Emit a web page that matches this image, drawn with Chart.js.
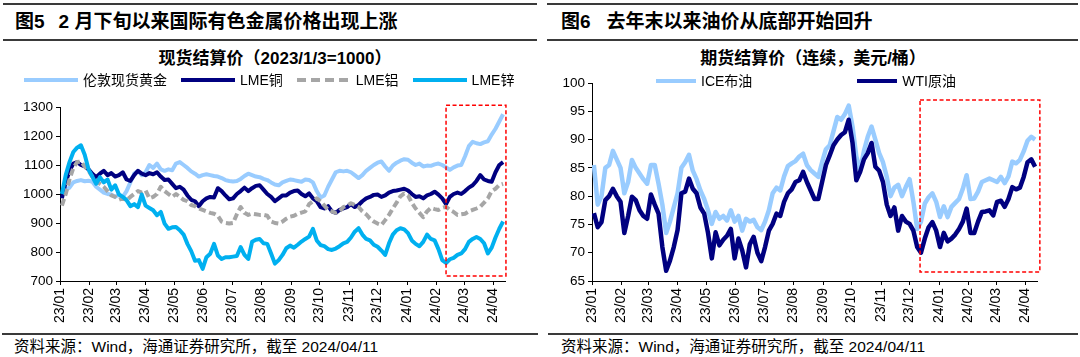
<!DOCTYPE html>
<html><head><meta charset="utf-8">
<script src="https://cdn.jsdelivr.net/npm/chart.js@4.4.1/dist/chart.umd.min.js"></script>
<style>
body{margin:0;width:1080px;height:357px;background:#fff;position:relative;overflow:hidden;font-family:"Liberation Sans","Noto Sans CJK SC",sans-serif;color:#000}
.hr{position:absolute;height:2px;background:#3a3a3a}
.title{position:absolute;top:10px;font-size:19px;line-height:24px;white-space:nowrap;font-weight:bold}
.sub{position:absolute;top:49px;font-size:17px;line-height:20px;white-space:nowrap;font-weight:bold;transform:translateX(-50%)}
.foot{position:absolute;top:338px;font-size:15.5px;line-height:18px;white-space:nowrap}
canvas{position:absolute}
.legend{position:absolute;display:flex;align-items:center;font-size:14px;line-height:16px;white-space:nowrap}
.legend .item{display:flex;align-items:center}
.legend .sw{height:4px;margin-right:5px}
</style></head>
<body>
<div class="hr" style="left:3px;top:3px;width:534px"></div>
<div class="hr" style="left:3px;top:39px;width:534px"></div>
<div class="hr" style="left:547px;top:3px;width:531px"></div>
<div class="hr" style="left:547px;top:39px;width:531px"></div>
<div class="title" style="left:15px">图5<span style="margin-left:14px">2 月下旬以来国际有色金属价格出现上涨</span></div>
<div class="title" style="left:561px">图6<span style="margin-left:16px">去年末以来油价从底部开始回升</span></div>
<div class="sub" style="left:275px">现货结算价（2023/1/3=1000）</div>
<div class="sub" style="left:813px">期货结算价（连续，美元/桶）</div>
<canvas id="c1" width="540" height="290" style="left:0;top:45px"></canvas>
<canvas id="c2" width="540" height="290" style="left:540px;top:45px"></canvas>
<div class="legend" id="lg1" style="left:24px;top:72px;gap:14px"></div>
<div class="legend" id="lg2" style="left:656px;top:73px;gap:105px"></div>
<div class="hr" style="left:2px;top:333px;width:536px"></div>
<div class="hr" style="left:548px;top:333px;width:530px"></div>
<div class="foot" style="left:14px">资料来源：Wind，海通证券研究所，截至 2024/04/11</div>
<div class="foot" style="left:561px">资料来源：Wind，海通证券研究所，截至 2024/04/11</div>
<script>
// ---------- data ----------
const monthTicks = ['23/01','23/02','23/03','23/04','23/05','23/06','23/07','23/08','23/09','23/10','23/11','23/12','24/01','24/02','24/03','24/04'];
const sampleStart = '2023-01-03';   // first sample date
const sampleStepDays = 4;           // samples every 4 calendar days, last = 2024-04-11
const axisEnd = '2024-04-13';

const metalNames = ['伦敦现货黄金','LME铜','LME铝','LME锌'];
const gold = [1000,1015,1022,1040,1045,1048,1044,1046,
 1042,1025,1015,1005,1000,998,990,
 998,990,1010,1040,1070,1080,1065,
 1075,1100,1090,1105,1085,1080,1085,1082,
 1105,1110,1100,1090,1078,1070,1060,1065,
 1068,1065,1062,1060,1055,1048,1045,
 1043,1045,1052,1062,1070,1065,1060,1058,
 1052,1048,1040,1033,1030,1040,1045,1050,
 1048,1045,1042,1050,1048,1040,1010,
 988,995,1025,1050,1075,1080,1078,1080,
 1075,1065,1055,1065,1080,1090,1100,
 1108,1112,1095,1080,1098,1108,1115,1120,
 1118,1108,1100,1105,1095,1098,1097,1102,
 1105,1100,1092,1083,1092,1098,1100,
 1130,1165,1180,1175,1172,1178,1182,1205,
 1225,1250,1275];
const copper = [985,1040,1080,1105,1110,1100,1095,1085,
 1070,1058,1070,1080,1065,1072,1060,
 1065,1075,1050,1045,1065,1080,1070,
 1065,1072,1068,1075,1060,1048,1050,1035,
 1020,1025,1015,995,980,975,958,975,
 985,990,988,1020,1010,995,982,
 985,1000,1010,1022,1010,1020,1028,1030,
 1015,1000,990,975,985,995,995,1005,
 1010,1012,1000,992,1002,985,975,
 955,950,958,940,935,945,950,955,
 965,955,962,975,985,990,997,
 998,990,995,1005,1010,1012,1015,1018,
 1012,1000,990,992,985,995,1000,1008,
 998,985,965,990,1000,1005,1000,
 1010,1022,1030,1045,1065,1050,1045,1042,
 1075,1100,1110];
const aluminium = [960,1000,1050,1090,1110,1112,1095,1080,
 1060,1048,1035,1025,1010,995,990,
 980,985,978,990,1000,1010,1005,
 1012,985,990,1000,1025,1010,1000,990,
 1000,990,980,975,962,958,950,945,
 940,935,932,925,905,900,898,
 900,930,955,935,928,932,930,928,
 928,925,905,900,898,905,915,922,
 925,932,936,940,965,975,985,
 975,960,945,940,935,940,955,960,
 968,962,955,940,930,915,905,
 898,893,910,928,950,970,992,1002,
 995,970,950,935,920,940,952,948,
 945,952,956,945,938,928,930,
 932,940,945,950,956,970,985,1010,
 1018,1031,1035];
const zinc = [1000,1065,1110,1145,1160,1168,1135,1085,
 1060,1035,1058,1040,1050,1015,1030,
 998,990,979,958,965,955,998,
 960,952,944,927,938,898,880,885,
 886,875,860,828,803,770,772,742,
 782,794,828,788,776,782,782,
 784,786,817,790,776,835,842,845,
 830,828,795,760,772,790,813,822,
 815,825,836,845,853,880,840,
 824,820,810,807,812,820,830,835,
 850,870,882,860,845,840,825,
 818,805,790,830,860,875,882,878,
 865,840,828,820,835,860,845,840,
 810,772,762,775,780,790,795,
 810,835,845,852,845,830,795,815,
 850,880,905];

const oilNames = ['ICE布油','WTI原油'];
const brent = [85.5,78.5,80,85,85.5,88,86.5,85,
 80.5,82.5,86.4,85,84,83,82.2,
 85.5,85.5,82.2,78.5,73.5,75.5,78,
 80.5,85,86,87.3,84.5,83,81,79.5,
 77.5,75.1,77.2,76,76.5,75.7,77.5,75.5,
 76.5,73.9,76,75.5,75.8,74.5,74,
 75.5,77.5,80.5,81.5,81,83.5,85.3,85.8,
 86.2,87,87.5,85.5,84.6,84,83.4,86,
 88.3,89,91.5,94,93.5,94.5,96,
 92.3,87,84.5,88,90.5,92.3,90,87.6,
 86,83.4,80,81.5,82,80,81.6,
 83,79,74.2,75.5,78.7,79.8,80.5,79,
 76.3,78.2,76.3,78.1,78.8,79.5,81.3,83.7,
 79.5,79.6,80.8,82.5,82.8,83.1,82.8,
 82.5,83.4,82.3,83.5,86.1,85.8,86.4,87.9,
 89.8,90.5,90];
const wti = [77,74.5,75.4,79.3,80,81.3,80,79,
 73.5,76.5,79.9,79.3,77.5,76.5,76,
 80.3,78.5,76.9,71,66.8,68.6,71,
 74,80.5,80.8,83.1,81.3,80.5,78,76.9,
 73.5,69,73.6,71.3,72.3,73,74.2,69,
 72.5,70.4,67.4,71.5,72.8,70,68.5,
 71,73.9,75.1,76.9,76.5,79,80.5,81.2,
 82.5,82.8,84.3,82.5,81,79.5,79.5,82.5,
 85.5,87.2,89,90,90.8,91.3,93.5,
 89.4,82.8,84.3,86.5,87.6,89.4,85.2,84.5,
 82.5,78.5,76.5,78,73.9,76.5,75.5,
 75.1,73.9,71,70,72.5,74.5,75.4,73.9,
 71,73.5,72,72.5,73.2,74.2,75.5,77.8,
 73.5,73.5,75.5,77.2,77.3,77.5,76.6,
 79,79.2,78.1,79.5,81.6,81.2,81.5,83.4,
 86,86.5,85.2];

// ---------- helpers ----------
const BASE = Date.UTC(2023,0,1);
function dayOf(s){const [y,m,d]=s.split('-').map(Number);return (Date.UTC(y,m-1,d)-BASE)/86400000;}
function tickDay(l){const [yy,mm]=l.split('/').map(Number);return (Date.UTC(2000+yy,mm-1,1)-BASE)/86400000;}
const tickDays = monthTicks.map(tickDay);
const sampleDays = gold.map((_,i)=>dayOf(sampleStart)+i*sampleStepDays);
const pts = arr => arr.map((v,i)=>({x:sampleDays[i], y:v}));

const FONT = '"Liberation Sans","Noto Sans CJK SC",sans-serif';

const highlightPlugin = {
  id:'highlight',
  afterDatasetsDraw(chart, args, o){
    if(!o || o.xFrom===undefined) return;
    const {ctx, scales:{x,y}} = chart;
    const x0=x.getPixelForValue(o.xFrom), x1=x.getPixelForValue(o.xTo);
    const y0=y.getPixelForValue(o.yTop), y1=y.getPixelForValue(o.yBottom);
    ctx.save(); ctx.strokeStyle='#FF0000'; ctx.lineWidth=1.5; ctx.setLineDash([4,2.5]);
    ctx.strokeRect(x0,y0,x1-x0,y1-y0); ctx.restore();
  }
};

function makeChart(id, datasets, yMin, yMax, yStep, yWidth, padRight, padTop, hl){
  return new Chart(document.getElementById(id), {
    type:'line',
    data:{datasets},
    plugins:[highlightPlugin],
    options:{
      responsive:false, animation:false, devicePixelRatio:1,
      layout:{padding:{left:0,right:padRight,top:padTop,bottom:0}},
      elements:{point:{radius:0}, line:{tension:0, borderJoinStyle:'round'}},
      plugins:{
        legend:{display:false}, tooltip:{enabled:false}, title:{display:false},
        highlight:hl
      },
      scales:{
        x:{type:'linear', min:0, max:dayOf(axisEnd),
          afterBuildTicks:s=>{s.ticks=tickDays.map(v=>({value:v}));},
          afterFit:s=>{s.height=54;},
          grid:{display:true, drawOnChartArea:false, drawTicks:true, tickLength:4, color:'#000'},
          border:{display:true, color:'#000', width:1},
          ticks:{autoSkip:false, minRotation:90, maxRotation:90, padding:3, color:'#000',
            font:{family:FONT, size:14},
            callback:v=>{const i=tickDays.indexOf(v);return i>=0?monthTicks[i]:'';}}
        },
        y:{min:yMin, max:yMax,
          afterFit:s=>{s.width=yWidth;},
          grid:{display:true, drawOnChartArea:false, drawTicks:true, tickLength:4, color:'#000'},
          border:{display:true, color:'#000', width:1},
          ticks:{stepSize:yStep, padding:3, color:'#000', font:{family:FONT, size:13.5},
            callback:v=>String(v)}
        }
      }
    }
  });
}

const metalSets = [
  {label:metalNames[0], data:pts(gold), borderColor:'#99CCFF', borderWidth:4, order:4},
  {label:metalNames[1], data:pts(copper), borderColor:'#000080', borderWidth:4, order:3},
  {label:metalNames[2], data:pts(aluminium), borderColor:'#A6A6A6', borderWidth:4, borderDash:[7,3.5], order:2},
  {label:metalNames[3], data:pts(zinc), borderColor:'#00B0F0', borderWidth:4, order:1}
];
const oilSets = [
  {label:oilNames[0], data:pts(brent), borderColor:'#99CCFF', borderWidth:4.5, order:2},
  {label:oilNames[1], data:pts(wti), borderColor:'#000080', borderWidth:4.5, order:1}
];

makeChart('c1', metalSets, 700, 1300, 100, 60, 35, 62,
  {xFrom:dayOf('2024-02-11'), xTo:dayOf('2024-04-14'), yTop:1306, yBottom:717});
makeChart('c2', oilSets, 65, 100, 5, 52, 43, 38,
  {xFrom:dayOf('2023-12-12'), xTo:dayOf('2024-04-16'), yTop:97, yBottom:66.6});

function buildLegend(elId, sets, swW){
  const el=document.getElementById(elId);
  sets.forEach(ds=>{
    const it=document.createElement('div'); it.className='item';
    const sw=document.createElement('div'); sw.className='sw'; sw.style.width=swW+'px';
    if(ds.borderDash){
      sw.style.background=`repeating-linear-gradient(to right, ${ds.borderColor} 0 9px, transparent 9px 14px)`;
    } else sw.style.background=ds.borderColor;
    const tx=document.createElement('span'); tx.textContent=ds.label;
    it.appendChild(sw); it.appendChild(tx); el.appendChild(it);
  });
}
buildLegend('lg1', metalSets, 54);
buildLegend('lg2', oilSets, 40);
</script>
</body></html>
